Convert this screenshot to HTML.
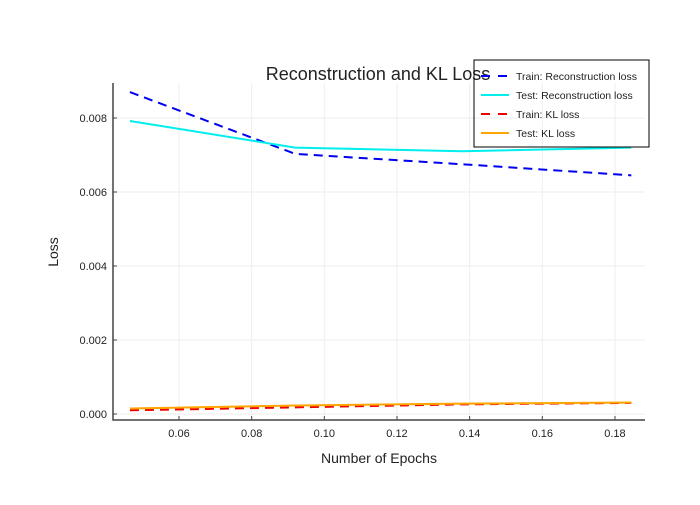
<!DOCTYPE html>
<html><head><meta charset="utf-8"><style>
body{margin:0;background:#fff;font-family:"Liberation Sans",sans-serif}
</style></head><body>
<svg width="700" height="500" xmlns="http://www.w3.org/2000/svg" font-family="Liberation Sans, sans-serif">
<g id="grid"></g>
<g id="axes"></g>
<g id="series"></g>
<text x="378" y="80" font-size="18" text-anchor="middle" fill="#222">Reconstruction and KL Loss</text>
<text x="379" y="463" font-size="14" text-anchor="middle" fill="#222">Number of Epochs</text>
<text x="58" y="252" font-size="14" text-anchor="middle" fill="#222" transform="rotate(-90 58 252)">Loss</text>
<g id="legend"></g>
</svg>
<script>
const epochs=[0.0465,0.092,0.138,0.1845];
const trainRecon=[0.0087,0.00703,0.00675,0.00645];
const testRecon=[0.00792,0.00720,0.00710,0.00720];
const trainKL=[0.00010,0.00018,0.00026,0.00030];
const testKL=[0.00015,0.00023,0.00028,0.00031];
const xTicks=[0.06,0.08,0.10,0.12,0.14,0.16,0.18];
const yTicks=[0,0.002,0.004,0.006,0.008];
const NS="http://www.w3.org/2000/svg";
const X=v=>179+(v-0.06)*3633, Y=v=>414-v*37000;
const L=113,R=645,T=83,B=420;
function el(t,a,p){const e=document.createElementNS(NS,t);for(const k in a)e.setAttribute(k,a[k]);p.appendChild(e);return e;}
const g=document.getElementById('grid'),ax=document.getElementById('axes'),s=document.getElementById('series'),lg=document.getElementById('legend');
xTicks.forEach(v=>{const l=el('line',{x1:X(v),x2:X(v),y1:T,y2:B,stroke:'#eee'},g);

const t=el('text',{x:X(v),y:437,'font-size':11,'text-anchor':'middle',fill:'#222'},ax);t.textContent=v.toFixed(2);

el('line',{x1:X(v),x2:X(v),y1:B,y2:B-4,stroke:'#444'},ax);});
yTicks.forEach(v=>{const l=el('line',{x1:L,x2:R,y1:Y(v),y2:Y(v),stroke:'#eee'},g);

const t=el('text',{x:107,y:Y(v)+4,'font-size':11,'text-anchor':'end',fill:'#222'},ax);t.textContent=v.toFixed(3);

el('line',{x1:L,x2:L+4,y1:Y(v),y2:Y(v),stroke:'#444'},ax);});
el('polyline',{points:`${L},${T} ${L},${B} ${R},${B}`,fill:'none',stroke:'#444','stroke-width':1.5},ax);
const defs=[[trainRecon,'#0000ee','9,6','train-reconstruction-line','Train: Reconstruction loss'],
[testRecon,'#00eeee','','test-reconstruction-line','Test: Reconstruction loss'],
[trainKL,'#ee0000','9,6','train-kl-line','Train: KL loss'],
[testKL,'#ffa500','','test-kl-line','Test: KL loss']];
defs.forEach((d,i)=>{const p=el('polyline',{points:epochs.map((x,j)=>X(x)+','+Y(d[0][j])).join(' '),fill:'none',stroke:d[1],'stroke-width':2,'stroke-dasharray':d[2]},s);
});
el('rect',{x:474,y:60,width:175,height:87,fill:'none',stroke:'#000'},lg);
defs.forEach((d,i)=>{const y=76+i*19;
el('line',{x1:481,x2:509,y1:y,y2:y,stroke:d[1],'stroke-width':2,'stroke-dasharray':d[2]?'9,8':''},lg);
const t=el('text',{x:516,y:y+4,'font-size':10.5,fill:'#222'},lg);t.textContent=d[4];
});
</script>
</body></html>
